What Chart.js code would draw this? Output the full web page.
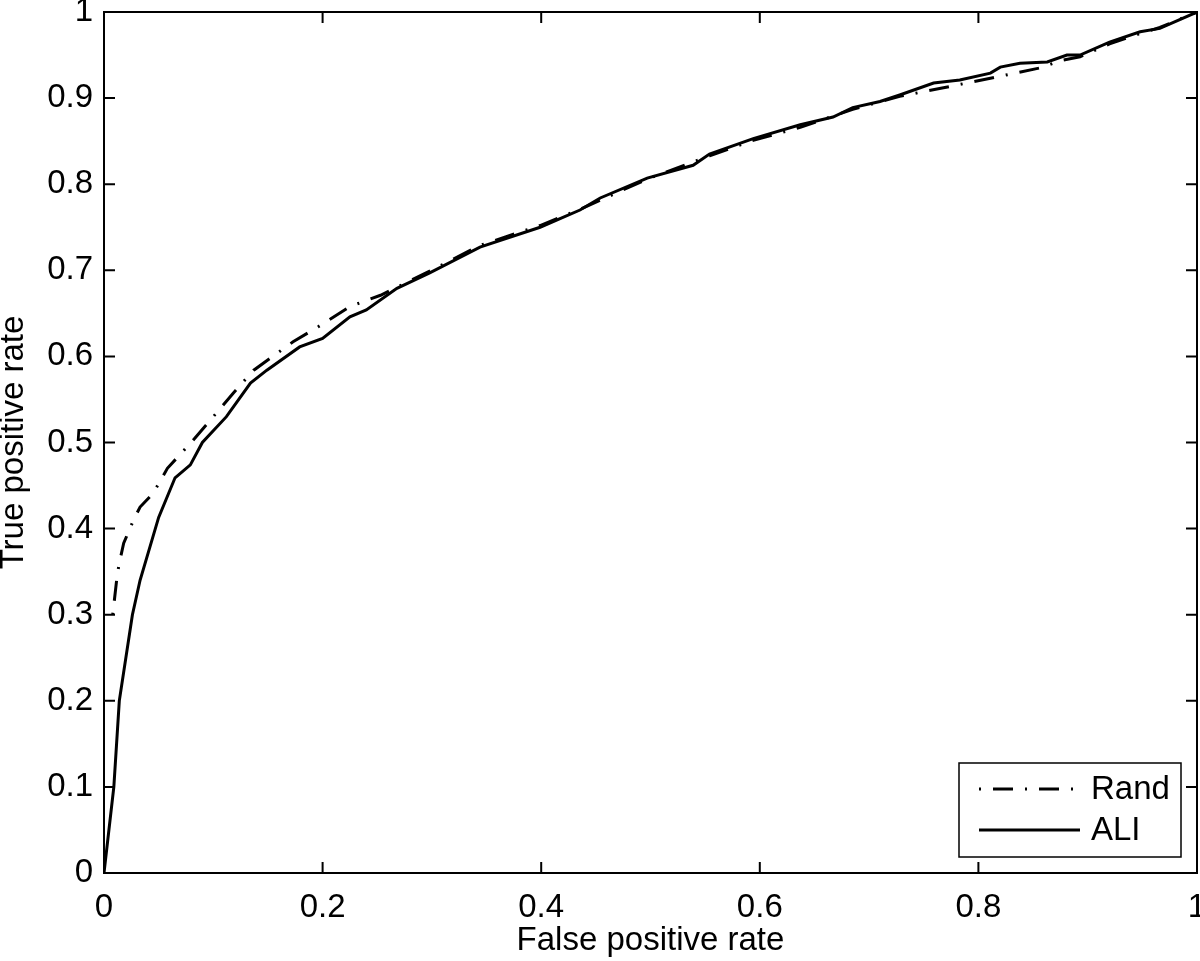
<!DOCTYPE html>
<html>
<head>
<meta charset="utf-8">
<script src="https://cdn.jsdelivr.net/npm/chart.js@4.4.1/dist/chart.umd.min.js"></script>
<style>
  html, body { margin: 0; padding: 0; background: #fff; }
  #wrap { width: 1200px; height: 961px; position: relative; }
</style>
</head>
<body>
<div id="wrap"><canvas id="rocChart"></canvas></div>
<script>
// ROC curves
const randX = [0.008, 0.012, 0.014, 0.018, 0.027, 0.033, 0.045, 0.058, 0.079, 0.1, 0.118, 0.137, 0.173, 0.198, 0.225, 0.253,
  0.298, 0.344, 0.399, 0.436, 0.497, 0.554, 0.594, 0.637, 0.685, 0.728, 0.768, 0.811, 0.856, 0.877, 0.893, 0.92, 0.948, 0.966, 1];
const randY = [0.3, 0.345, 0.36, 0.383, 0.41, 0.425, 0.441, 0.47, 0.499, 0.53, 0.557, 0.584, 0.617, 0.636, 0.658, 0.671,
  0.699, 0.729, 0.752, 0.771, 0.806, 0.833, 0.851, 0.866, 0.887, 0.902, 0.912, 0.923, 0.935, 0.944, 0.948, 0.963, 0.975, 0.982, 1];

const aliX = [0, 0.009, 0.014, 0.026, 0.033, 0.05, 0.065, 0.079, 0.09, 0.112, 0.134, 0.149, 0.179, 0.2, 0.225, 0.24, 0.268,
  0.298, 0.344, 0.399, 0.4355, 0.454, 0.497, 0.539, 0.554, 0.594, 0.637, 0.667, 0.685, 0.71, 0.728, 0.759, 0.783, 0.811,
  0.82, 0.838, 0.863, 0.881, 0.893, 0.92, 0.948, 0.966, 1];
const aliY = [0, 0.1, 0.2, 0.3, 0.34, 0.413, 0.459, 0.474, 0.5, 0.53, 0.569, 0.584, 0.611, 0.621, 0.646, 0.654, 0.679,
  0.697, 0.727, 0.75, 0.77, 0.784, 0.807, 0.822, 0.835, 0.853, 0.869, 0.878, 0.889, 0.896, 0.9036, 0.9175, 0.921, 0.929,
  0.936, 0.9405, 0.942, 0.95, 0.95, 0.965, 0.977, 0.981, 1];

const xTicks = [0, 0.2, 0.4, 0.6, 0.8, 1];
const yTicks = [0, 0.1, 0.2, 0.3, 0.4, 0.5, 0.6, 0.7, 0.8, 0.9, 1];
const seriesNames = ['Rand', 'ALI'];

const FONT = 'Liberation Sans, Arial, Helvetica, sans-serif';
const FSIZE = 33;
const randDash = [2, 12, 20, 12];

function toPoints(xs, ys) {
  return xs.map((x, i) => ({ x: x, y: ys[i] }));
}

// box, inward ticks and legend like a matlab figure
const frame = {
  id: 'frame',
  afterDraw(chart) {
    const ctx = chart.ctx;
    const a = chart.chartArea;
    const sx = chart.scales.x, sy = chart.scales.y;
    ctx.save();
    ctx.strokeStyle = '#000';
    ctx.lineWidth = 2;
    ctx.strokeRect(a.left, a.top, a.right - a.left, a.bottom - a.top);
    const tl = 11;
    ctx.beginPath();
    xTicks.forEach(v => {
      const px = sx.getPixelForValue(v);
      ctx.moveTo(px, a.bottom); ctx.lineTo(px, a.bottom - tl);
      ctx.moveTo(px, a.top); ctx.lineTo(px, a.top + tl);
    });
    yTicks.forEach(v => {
      const py = sy.getPixelForValue(v);
      ctx.moveTo(a.left, py); ctx.lineTo(a.left + tl, py);
      ctx.moveTo(a.right, py); ctx.lineTo(a.right - tl, py);
    });
    ctx.stroke();

    // legend
    const lx = 959, ly = 763, lw = 222, lh = 94;
    ctx.fillStyle = '#fff';
    ctx.fillRect(lx, ly, lw, lh);
    ctx.lineWidth = 1.5;
    ctx.strokeRect(lx, ly, lw, lh);
    ctx.font = FSIZE + 'px ' + FONT;
    ctx.textBaseline = 'middle';
    ctx.fillStyle = '#000';
    chart.data.datasets.forEach((ds, i) => {
      const y = [789, 830][i];
      ctx.lineWidth = 3;
      ctx.setLineDash(ds.borderDash || []);
      ctx.beginPath();
      ctx.moveTo(979, y); ctx.lineTo(1080, y);
      ctx.stroke();
      ctx.setLineDash([]);
      ctx.fillText(ds.label, 1091, y + 1);
    });
    ctx.restore();
  }
};

function desenhar() {
  const ctx = document.getElementById('rocChart').getContext('2d');
  new Chart(ctx, {
    type: 'scatter',
    data: {
      datasets: [{
        label: seriesNames[0],
        data: toPoints(randX, randY),
        showLine: true,
        borderColor: '#000',
        borderWidth: 3,
        borderDash: randDash,
        pointRadius: 0,
        tension: 0
      }, {
        label: seriesNames[1],
        data: toPoints(aliX, aliY),
        showLine: true,
        borderColor: '#000',
        borderWidth: 3,
        pointRadius: 0,
        tension: 0
      }]
    },
    options: {
      responsive: true,
      maintainAspectRatio: false,
      animation: false,
      layout: { padding: { top: 12, right: 3, left: 0, bottom: 0 } },
      plugins: { legend: { display: false }, tooltip: { enabled: false } },
      scales: {
        x: {
          type: 'linear', min: 0, max: 1,
          grid: { display: false, drawTicks: false },
          border: { display: false },
          afterBuildTicks: s => { s.ticks = xTicks.map(v => ({ value: v })); },
          afterFit: s => { s.height = 88; s.paddingLeft = 0; s.paddingRight = 0; },
          ticks: {
            color: '#000', padding: 15, maxRotation: 0, autoSkip: false,
            font: { family: FONT, size: FSIZE },
            callback: v => String(+v.toFixed(1))
          },
          title: {
            display: true, text: 'False positive rate', color: '#000',
            font: { family: FONT, size: FSIZE }, padding: { top: 0, bottom: 0 }
          }
        },
        y: {
          type: 'linear', min: 0, max: 1,
          grid: { display: false, drawTicks: false },
          border: { display: false },
          afterBuildTicks: s => { s.ticks = yTicks.map(v => ({ value: v })); },
          afterFit: s => { s.width = 104; s.paddingTop = 0; s.paddingBottom = 0; },
          ticks: {
            color: '#000', padding: 11, autoSkip: false,
            font: { family: FONT, size: FSIZE },
            callback: v => String(+v.toFixed(1))
          },
          title: {
            display: true, text: 'True positive rate', color: '#000',
            font: { family: FONT, size: FSIZE, lineHeight: 1 }, padding: { top: -3, bottom: 0 }
          }
        }
      }
    },
    plugins: [frame]
  });
}

document.addEventListener('DOMContentLoaded', desenhar);
</script>
</body>
</html>
